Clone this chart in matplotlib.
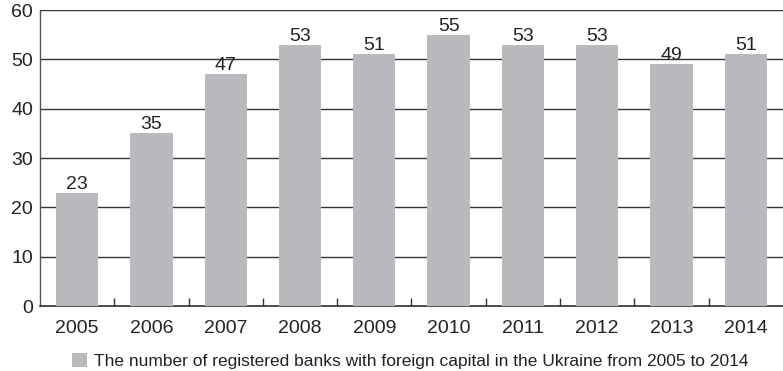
import matplotlib
matplotlib.use("Agg")
import matplotlib.pyplot as plt
import numpy as np

years = ['2005', '2006', '2007', '2008', '2009', '2010', '2011', '2012', '2013', '2014']
banks = [23, 35, 47, 53, 51, 55, 53, 53, 49, 51]
yticks = [0, 10, 20, 30, 40, 50, 60]
legend_label = 'The number of registered banks with foreign capital in the Ukraine from 2005 to 2014'

plt.rcParams['font.family'] = ['Liberation Sans', 'DejaVu Sans']

fig = plt.figure(figsize=(7.83, 3.71), dpi=100)
ax = fig.add_axes([0.051, 0.175, 0.949, 0.798])

x = np.arange(len(years))
bars = ax.bar(x, banks, width=0.57, color='#b9babd', zorder=3, label=legend_label)

for xi, v in zip(x, banks):
    ax.annotate(str(v), (xi, v), xytext=(0, 0), textcoords='offset points',
                ha='center', va='bottom', fontsize=14, color='#222222', zorder=4)

ax.set_xlim(-0.5, len(years) - 0.5)
ax.set_ylim(0, 60)
ax.set_yticks(yticks)
ax.yaxis.grid(True, color='#333333', linewidth=1.0, zorder=1)
ax.tick_params(axis='y', length=0, labelsize=14, pad=5, colors='#222222')

ax.set_xticks(x)
ax.set_xticklabels(years)
ax.tick_params(axis='x', which='major', length=0, labelsize=14, pad=10, colors='#222222')
ax.set_xticks(x[:-1] + 0.5, minor=True)
ax.tick_params(axis='x', which='minor', direction='in', length=6, width=1.0, color='#333333')

for s in ['top', 'right']:
    ax.spines[s].set_visible(False)
ax.spines['left'].set_color('#555555')
ax.spines['bottom'].set_color('#333333')
ax.spines['left'].set_linewidth(1.0)
ax.spines['bottom'].set_linewidth(1.2)

fig.legend(handles=[bars], labels=[legend_label], loc='center', bbox_to_anchor=(0.524, 0.028),
           frameon=False, fontsize=12.5, handlelength=0.86, handleheight=0.86, handletextpad=0.4,
           labelcolor='#222222', borderpad=0)

fig.savefig('out.png', dpi=100)
